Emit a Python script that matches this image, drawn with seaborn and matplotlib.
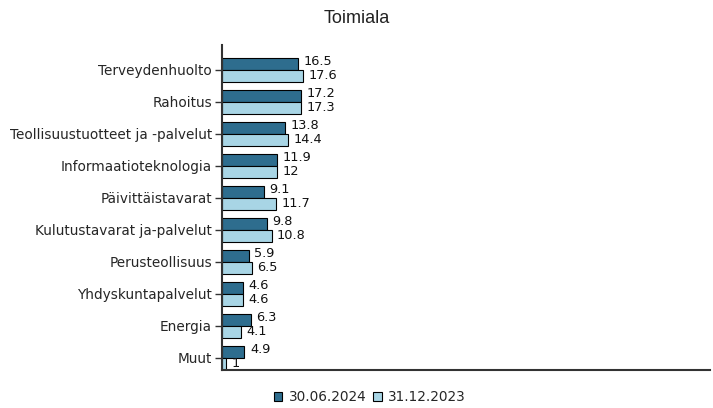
import matplotlib
matplotlib.use("Agg")
import matplotlib.pyplot as plt
import seaborn as sns
import pandas as pd

categories = ["Terveydenhuolto", "Rahoitus", "Teollisuustuotteet ja -palvelut",
              "Informaatioteknologia", "Päivittäistavarat", "Kulutustavarat ja-palvelut",
              "Perusteollisuus", "Yhdyskuntapalvelut", "Energia", "Muut"]
series = ["30.06.2024", "31.12.2023"]
values_2024 = [16.5, 17.2, 13.8, 11.9, 9.1, 9.8, 5.9, 4.6, 6.3, 4.9]
values_2023 = [17.6, 17.3, 14.4, 12, 11.7, 10.8, 6.5, 4.6, 4.1, 1]
labels_2024 = ["16.5", "17.2", "13.8", "11.9", "9.1", "9.8", "5.9", "4.6", "6.3", "4.9"]
labels_2023 = ["17.6", "17.3", "14.4", "12", "11.7", "10.8", "6.5", "4.6", "4.1", "1"]
colors = ["#2e6d8e", "#a8d5e5"]

df = pd.DataFrame({
    "Toimiala": categories * 2,
    "Sarja": [series[0]] * len(categories) + [series[1]] * len(categories),
    "Arvo": values_2024 + values_2023,
})

sns.set_style("white")
plt.rcParams["font.family"] = ["DejaVu Sans"]

fig = plt.figure(figsize=(7.13, 4.08), dpi=100)
ax = fig.add_axes([0.311, 0.093, 0.685, 0.797])
sns.barplot(data=df, y="Toimiala", x="Arvo", hue="Sarja", order=categories,
            hue_order=series, palette=colors, saturation=1, orient="h", width=0.76,
            edgecolor="black", linewidth=0.8, ax=ax, legend=True)

# value labels sit close together next to the bar ends
for cont, labs, dy in zip(ax.containers, [labels_2024, labels_2023], [1.6, 0.6]):
    for t in ax.bar_label(cont, labels=labs, padding=4, fontsize=9.3, color="#111111"):
        t.xyann = (t.xyann[0], t.xyann[1] + dy)

ax.set_xlim(0, 106)
ax.set_ylim(9.38, -0.78)
ax.set_xlabel("")
ax.set_ylabel("")
ax.set_xticks([])
ax.tick_params(axis="y", left=True, length=5, width=1, color="#333333",
               labelsize=9.8, pad=2)
for s in ["top", "right"]:
    ax.spines[s].set_visible(False)
for s in ["left", "bottom"]:
    ax.spines[s].set_color("#333333")
    ax.spines[s].set_linewidth(1.5)

fig.text(0.5, 0.955, "Toimiala", ha="center", va="center", fontsize=13,
         family="Liberation Sans", color="#222222")

leg = ax.legend(loc="center", ncol=2, frameon=False, fontsize=9.8,
                handlelength=0.6, handleheight=0.6, handletextpad=0.5, columnspacing=0.5)
leg.set_bbox_to_anchor((0.519, 0.027), transform=fig.transFigure)
for h in leg.legend_handles:
    h.set_edgecolor("black")
    h.set_linewidth(0.8)

fig.savefig("out.png", dpi=100)
